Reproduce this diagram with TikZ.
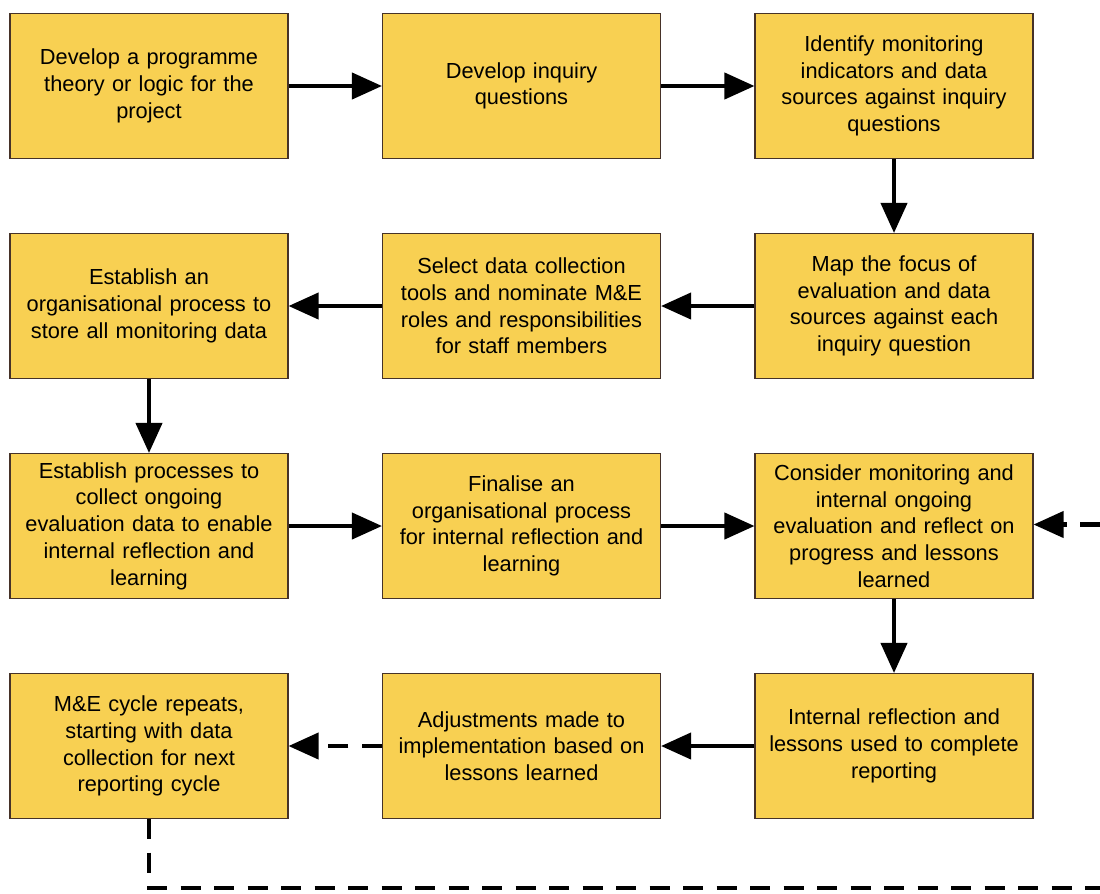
\documentclass[tikz,border=0pt]{standalone}
\usepackage{fontspec}
\setmainfont{Liberation Sans}
\usetikzlibrary{arrows.meta}
\definecolor{boxfill}{RGB}{248,208,82}
\definecolor{boxline}{RGB}{70,50,40}
\tikzset{
  stagebox/.style={draw=boxline,line width=0.6pt,fill=boxfill,minimum width=5.56cm,
    minimum height=2.9cm,text width=5.4cm,align=center,inner sep=0pt,
    font=\fontsize{12.4}{15.2}\selectfont},
  flow/.style={line width=2.3pt,-{Triangle[length=0.6cm,width=0.52cm]}},
  loopback/.style={flow,dash pattern=on 0.4cm off 0.27cm}
}
\begin{document}
\begin{tikzpicture}
  \useasboundingbox (0,0) rectangle (22,-17.86);
  % row 1
  \node[stagebox] (theory) at (2.98,-1.72) {Develop a programme\\theory or logic for the\\project};
  \node[stagebox] (questions) at (10.43,-1.72) {Develop inquiry\\questions};
  \node[stagebox] (indicators) at (17.88,-1.72) {Identify monitoring\\indicators and data\\sources against inquiry\\questions};
  % row 2
  \node[stagebox] (storedata) at (2.98,-6.12) {Establish an\\organisational process to\\store all monitoring data};
  \node[stagebox] (selecttools) at (10.43,-6.12) {Select data collection\\tools and nominate M\&E\\roles and responsibilities\\for staff members};
  \node[stagebox] (mapfocus) at (17.88,-6.12) {Map the focus of\\evaluation and data\\sources against each\\inquiry question};
  % row 3
  \node[stagebox] (collect) at (2.98,-10.52) {Establish processes to\\collect ongoing\\evaluation data to enable\\internal reflection and\\learning};
  \node[stagebox] (finalise) at (10.43,-10.52) {Finalise an\\organisational process\\for internal reflection and\\learning};
  \node[stagebox] (consider) at (17.88,-10.52) {Consider monitoring and\\internal ongoing\\evaluation and reflect on\\progress and lessons\\learned};
  % row 4
  \node[stagebox] (cyclerepeat) at (2.98,-14.92) {M\&E cycle repeats,\\starting with data\\collection for next\\reporting cycle};
  \node[stagebox] (adjust) at (10.43,-14.92) {Adjustments made to\\implementation based on\\lessons learned};
  \node[stagebox] (reflection) at (17.88,-14.92) {Internal reflection and\\lessons used to complete\\reporting};
  % connectors
  \draw[flow] (theory) -- (questions);
  \draw[flow] (questions) -- (indicators);
  \draw[flow] (indicators) -- (mapfocus);
  \draw[flow] (mapfocus) -- (selecttools);
  \draw[flow] (selecttools) -- (storedata);
  \draw[flow] (storedata) -- (collect);
  \draw[flow] (collect) -- (finalise);
  \draw[flow] (finalise) -- (consider);
  \draw[flow] (consider) -- (reflection);
  \draw[flow] (reflection) -- (adjust);
  \draw[loopback] (adjust) -- (cyclerepeat);
  % loop back to the top of the cycle
  \coordinate (loopbottom) at (22,-17.76);
  \coordinate (loopright) at (22,-10.49);
  \draw[line width=2.3pt,dash pattern=on 0.4cm off 0.27cm] (cyclerepeat.south) |- (loopbottom);
  \draw[loopback] (loopright) -- (consider.east |- loopright);
\end{tikzpicture}
\end{document}
